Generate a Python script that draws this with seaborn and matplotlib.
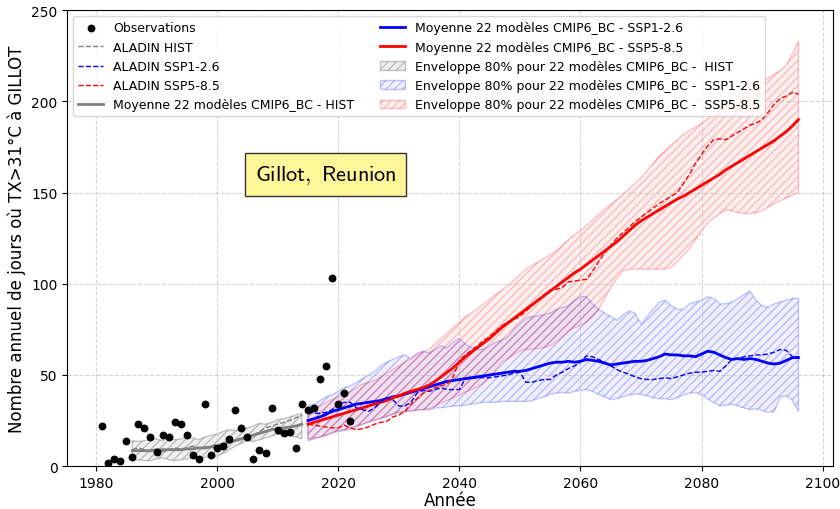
import numpy as np
import matplotlib
matplotlib.use("Agg")
import matplotlib.pyplot as plt
import seaborn as sns

plt.rcParams["mathtext.fontset"] = "cm"

# Observations Gillot (TX>31°C)
obs_years = list(range(1981, 2023))
obs_values = [22, 2, 4, 3, 14, 5, 23, 21, 16, 8, 17, 16, 24, 23, 17, 6, 4, 34, 6, 10,
              11, 15, 31, 21, 16, 4, 9, 7, 32, 20, 18, 19, 10, 34, 31, 32, 48, 55, 103, 34,
              40, 25]

# historique 1986-2014
hist_years = list(range(1986, 2015))
hist_mean = [8.5, 8.5, 8.5, 8.5, 9, 9, 9, 9, 9, 9.5, 9.5, 10, 10, 10.5, 11, 12, 13, 14, 15, 16,
             17, 18, 19, 20, 20.5, 21, 21.5, 22, 23]
hist_low = [3, 3.5, 3, 3, 4, 4.5, 3.5, 3, 3.5, 4, 4.5, 4, 5, 5, 5.5, 7, 9, 11, 12.5, 14,
            13.5, 14.5, 15.5, 16.5, 17.5, 17, 16.5, 16, 15]
hist_high = [14, 13.5, 14, 14.5, 15, 14, 15.5, 14.5, 15, 16, 15.5, 14.5, 16, 17, 17.5, 19, 20, 19.5, 20.5, 21,
             22, 23.5, 23, 24, 25.5, 26, 27, 28, 29]
aladin_hist = [9, 10, 9, 8, 7.5, 8, 9, 10, 9.5, 10, 11, 10, 10.5, 11, 12, 12, 13.5, 14, 15, 15.5,
               17, 19, 21, 22, 23, 24, 25, 26.5, 28]

# scenarios 2015-2096
scen_years = list(range(2015, 2097))
ssp126_mean = [25, 26, 27, 28.5, 30, 31, 32, 33, 34, 34.5, 35, 35.5, 36, 37, 38, 38.5, 39.5, 40.5, 41.5, 42.5,
               43.5, 44.5, 45.5, 46.5, 47, 47.5, 48, 48.5, 49, 49.5, 50, 50.5, 51, 51.5, 52, 52, 52.5, 53.5, 54.5, 55.5,
               56.5, 57, 57, 57.5, 57, 57.5, 58.5, 58, 57.5, 56.5, 55.5, 56, 56.5, 57, 57.5, 57.5, 58, 59, 60, 61.5,
               61, 61, 60.5, 60.5, 60, 61.5, 63, 62.5, 61, 59.5, 58.5, 59, 58.5, 59, 58.5, 57.5, 56.5, 56, 56.5, 58,
               59.5, 59.5]
ssp585_mean = [23, 24, 25, 26, 27, 28, 29, 30, 31, 32, 33, 34, 35, 36, 37.5, 38.5, 40, 41, 42, 43,
               44.5, 46.5, 49, 51.5, 54, 57, 60, 62.5, 65, 67.5, 70, 73, 76, 78.5, 81, 83.5, 86, 88.5, 91, 93.5,
               96, 98.5, 101, 103.5, 106, 108, 110.5, 113, 115.5, 118, 120.5, 123, 126, 129, 132, 134.5, 136.5, 138.5, 140.5, 142.5,
               144.5, 146.5, 148, 150, 152, 154, 156, 158, 160, 162.5, 164.5, 166.5, 168.5, 170.5, 172.5, 174.5, 176.5, 178.5, 181, 183.5,
               186.5, 190]
aladin_ssp126 = [30, 29, 29, 29.5, 31, 34, 35, 35, 32, 31, 30, 32, 35, 37.5, 36.5, 33, 33, 35, 40, 41.5,
                 41, 42, 43, 42, 42, 42, 48, 48, 48.5, 48.5, 48.5, 49, 49.5, 50, 51, 51.5, 46, 46, 47, 47.5,
                 47.5, 50, 51.5, 53.5, 55, 57, 60.5, 60, 58.5, 57, 55, 53, 51.5, 50.5, 49, 48, 47.5, 47.5, 48, 48.5,
                 48, 49, 50, 51, 51.5, 51.5, 52, 52.5, 52, 55, 58.5, 59, 60, 60.5, 61, 61, 61.5, 62.5, 64, 63.5,
                 60, 60]
aladin_ssp585 = [23, 22.5, 22, 21.5, 21, 21, 22.5, 21, 20, 20.5, 21.5, 23, 24, 24.5, 27, 28, 30, 34, 37, 40,
                 41.5, 43, 44, 45, 49, 58, 61, 63.5, 66, 69, 71, 74, 77, 79, 80.5, 82, 85, 88, 91, 94,
                 96.5, 97, 98, 101, 101.5, 102, 102.5, 107, 112, 117, 121, 125, 128, 131, 134, 136.5, 139, 141.5, 144, 146,
                 148, 150, 155, 160, 166, 171, 175.5, 179, 179.5, 179, 181, 183, 185, 187, 188, 190, 194, 198.5, 201.5, 203,
                 205, 204]
ssp126_low = [14, 15, 16, 17, 18.5, 19.5, 20, 21, 22, 23, 24, 25, 26, 27, 28.5, 29.5, 30, 30.5, 31, 31,
              31, 32, 32, 32.5, 33, 33, 33.5, 34, 34.5, 35, 35, 35, 35.5, 35.5, 35.5, 35.5, 35.5, 36, 37, 38,
              39.5, 40, 40.5, 40, 41, 41.5, 42, 41, 39.5, 38, 36.5, 37, 38, 39, 39.5, 39.5, 38.5, 37.5, 37, 37,
              36.5, 37.5, 39, 40, 40.5, 39, 37, 35, 33, 33.5, 34, 33, 32, 31, 31.5, 30.5, 29.5, 30, 38, 38.5,
              36, 30]
ssp126_high = [33, 34, 36, 38, 39, 41, 43, 44, 46, 48, 50, 52, 55, 57, 58.5, 60, 61, 59, 62, 63,
               62, 64, 66, 65, 68, 70, 67, 65, 64, 64, 66, 68, 69, 71, 75, 78, 81, 82, 82.5, 83,
               84, 86, 87, 88, 91, 93, 93, 89, 86, 84, 82, 80, 83, 85, 84, 78, 82, 86, 90, 91,
               88, 86, 86, 89, 90, 91, 93, 92, 89, 89, 90, 92, 94, 96, 91, 88, 87, 89, 90, 91,
               92, 92]
ssp585_low = [15, 15.5, 16, 17, 18, 19, 19.5, 20, 21.5, 23, 24.5, 25.5, 26.5, 27.5, 28.5, 29.5, 30, 30, 30.5, 31,
              31.5, 33, 34.5, 36, 37.5, 39, 40.5, 42, 43.5, 45.5, 49, 53, 57, 59, 61, 63, 64, 64, 64.5, 65,
              66, 68, 71, 74, 76, 77, 79, 82, 86, 92, 98, 103, 107, 108, 108, 108, 108, 108, 108, 108,
              109, 112, 116, 119, 124, 129, 133, 136, 138.5, 140.5, 140, 139, 138.5, 138.5, 139, 140, 142, 144, 145.5, 147,
              148.5, 150]
ssp585_high = [30, 31, 33, 35, 36.5, 38, 39.5, 41, 43, 45, 46, 47, 49, 51, 53, 55, 57, 59, 61, 62.5,
               64, 67, 70, 73, 76, 79, 82, 84, 86.5, 89, 91.5, 94, 96.5, 99, 102, 105, 108, 110, 112, 114,
               116, 118, 121, 124, 127, 129, 132, 135, 138, 141, 143.5, 146, 149, 152, 155, 158, 162, 166, 170, 173,
               176, 179, 182, 184, 186, 188, 190.5, 193, 195, 197, 199, 201, 203, 206, 209, 211, 213, 215, 217, 220,
               226, 233]

fig, ax = plt.subplots(figsize=(8.4, 5.1), dpi=100)
fig.subplots_adjust(left=0.080, right=0.992, top=0.978, bottom=0.084)

# enveloppes 80%
ax.fill_between(hist_years, hist_low, hist_high, facecolor=(0.5, 0.5, 0.5, 0.12),
                edgecolor=(0.5, 0.5, 0.5, 0.45), hatch="////", linewidth=1,
                label="Enveloppe 80% pour 22 modèles CMIP6_BC -  HIST")
ax.fill_between(scen_years, ssp126_low, ssp126_high, facecolor=(0, 0, 1, 0.06),
                edgecolor=(0, 0, 1, 0.22), hatch="////", linewidth=1,
                label="Enveloppe 80% pour 22 modèles CMIP6_BC -  SSP1-2.6")
ax.fill_between(scen_years, ssp585_low, ssp585_high, facecolor=(1, 0, 0, 0.06),
                edgecolor=(1, 0, 0, 0.22), hatch="////", linewidth=1,
                label="Enveloppe 80% pour 22 modèles CMIP6_BC -  SSP5-8.5")

# moyennes multi-modeles
sns.lineplot(x=hist_years, y=hist_mean, color="gray", linewidth=2, ax=ax,
             label="Moyenne 22 modèles CMIP6_BC - HIST")
sns.lineplot(x=scen_years, y=ssp126_mean, color="blue", linewidth=2, ax=ax,
             label="Moyenne 22 modèles CMIP6_BC - SSP1-2.6")
sns.lineplot(x=scen_years, y=ssp585_mean, color="red", linewidth=2, ax=ax,
             label="Moyenne 22 modèles CMIP6_BC - SSP5-8.5")

# ALADIN
sns.lineplot(x=hist_years, y=aladin_hist, color="gray", linewidth=1, linestyle="--", ax=ax,
             label="ALADIN HIST")
sns.lineplot(x=scen_years, y=aladin_ssp126, color="blue", linewidth=1, linestyle="--", ax=ax,
             label="ALADIN SSP1-2.6")
sns.lineplot(x=scen_years, y=aladin_ssp585, color="red", linewidth=1, linestyle="--", ax=ax,
             label="ALADIN SSP5-8.5")

sns.scatterplot(x=obs_years, y=obs_values, color="black", s=32, linewidth=0,
                ax=ax, label="Observations", zorder=5)

order = ["Observations", "ALADIN HIST", "ALADIN SSP1-2.6", "ALADIN SSP5-8.5",
         "Moyenne 22 modèles CMIP6_BC - HIST",
         "Moyenne 22 modèles CMIP6_BC - SSP1-2.6", "Moyenne 22 modèles CMIP6_BC - SSP5-8.5",
         "Enveloppe 80% pour 22 modèles CMIP6_BC -  HIST",
         "Enveloppe 80% pour 22 modèles CMIP6_BC -  SSP1-2.6",
         "Enveloppe 80% pour 22 modèles CMIP6_BC -  SSP5-8.5"]
h, l = ax.get_legend_handles_labels()
lookup = dict(zip(l, h))
ax.legend([lookup[k] for k in order], order, loc="upper left", ncol=2, fontsize=9)

ax.text(2017.9, 160, r"$\mathsf{Gillot,\ Reunion}$", fontsize=16, ha="center", va="center",
        bbox=dict(facecolor="#fff79a", edgecolor="#333333", boxstyle="square,pad=0.45"))

ax.set_ylim(0, 250)
ax.grid(True, linestyle="--", alpha=0.5)
ax.set_xlabel("Année", fontsize=12, labelpad=1)
ax.set_ylabel("Nombre annuel de jours où TX>31°C à GILLOT", fontsize=12)

fig.savefig("out.png")
